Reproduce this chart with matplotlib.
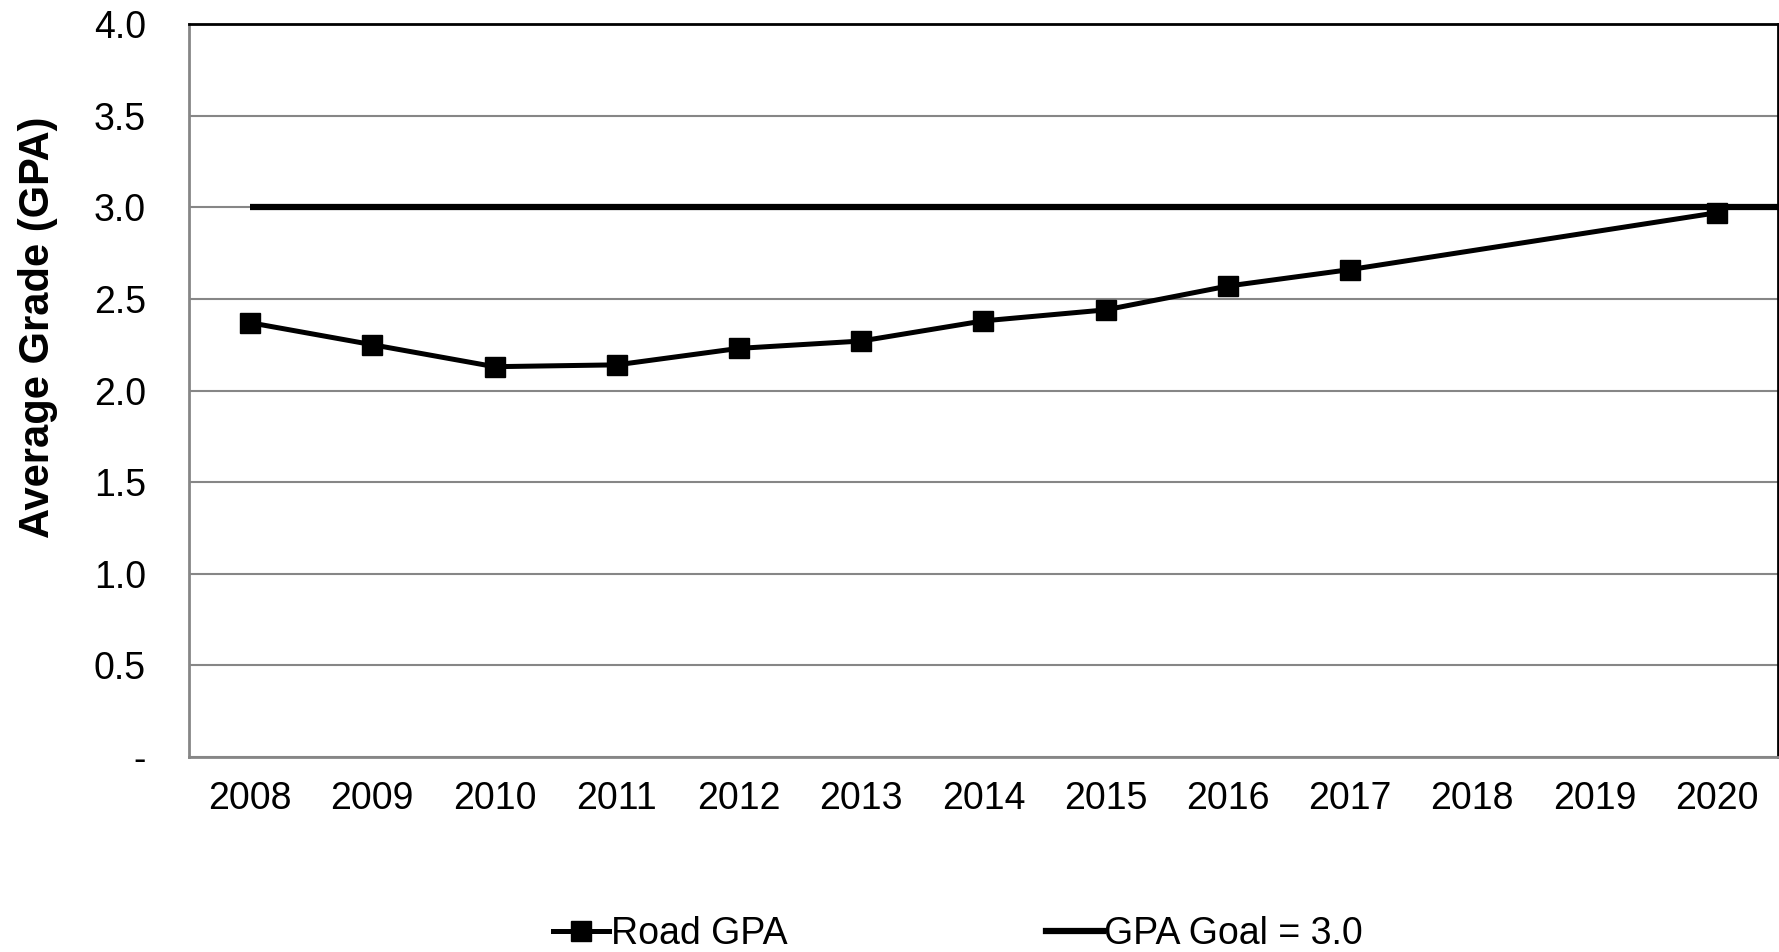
import numpy as np
import matplotlib.pyplot as plt
from matplotlib.lines import Line2D

plt.rcParams['font.family'] = ['Liberation Sans', 'DejaVu Sans']

# data
years = ["2008", "2009", "2010", "2011", "2012", "2013", "2014",
         "2015", "2016", "2017", "2018", "2019", "2020"]
road_gpa = [2.37, 2.25, 2.13, 2.14, 2.23, 2.27, 2.38, 2.44, 2.57, 2.66, None, None, 2.97]
gpa_goal = 3.0
y_ticks = [0, 0.5, 1.0, 1.5, 2.0, 2.5, 3.0, 3.5, 4.0]
y_tick_labels = ["-", "0.5", "1.0", "1.5", "2.0", "2.5", "3.0", "3.5", "4.0"]

fig = plt.figure(figsize=(17.79, 9.52), dpi=100)
ax = fig.add_axes([0.1062, 0.2048, 0.8932, 0.770])

x = np.arange(len(years))
# gaps in the series are bridged, like the original chart
xs = [i for i, v in zip(x, road_gpa) if v is not None]
vs = [v for v in road_gpa if v is not None]

ax.plot([0, len(years) - 0.5], [gpa_goal, gpa_goal], color="black", lw=4.5,
        solid_capstyle="butt", zorder=3)
ax.plot(xs, vs, color="black", lw=3.6, marker="s", markersize=14, zorder=4)

ax.set_xlim(-0.5, len(years) - 0.5)
ax.set_ylim(0, 4.0)
ax.set_xticks(x)
ax.set_xticklabels(years)
ax.set_yticks(y_ticks)
ax.set_yticklabels(y_tick_labels)
ax.tick_params(axis="both", length=0, labelsize=27, colors="black")
ax.tick_params(axis="y", pad=31)
ax.tick_params(axis="x", pad=17)
ax.yaxis.grid(True, color="#868686", lw=1.5)
ax.set_axisbelow(True)

ax.spines["left"].set_color("#868686")
ax.spines["bottom"].set_color("#868686")
ax.spines["left"].set_linewidth(2)
ax.spines["bottom"].set_linewidth(2)
ax.spines["top"].set_color("black")
ax.spines["right"].set_color("black")
ax.spines["top"].set_linewidth(2)
ax.spines["right"].set_linewidth(2)

fig.text(38 / 1779, 1 - 327 / 952, "Average Grade (GPA)", rotation=90,
         ha="center", va="center", fontsize=30, fontweight="bold")

handles = [Line2D([], [], color="black", lw=3.6, marker="s", markersize=14),
           Line2D([], [], color="black", lw=4.5)]
fig.legend(handles, ["Road GPA", "GPA Goal = 3.0"], loc="lower center",
           bbox_to_anchor=(958 / 1779, 0.0), ncol=2, frameon=False, borderpad=0,
           borderaxespad=0, fontsize=27, handlelength=1.5, handletextpad=0.05,
           columnspacing=6.9)

fig.savefig("out.png", dpi=100)
